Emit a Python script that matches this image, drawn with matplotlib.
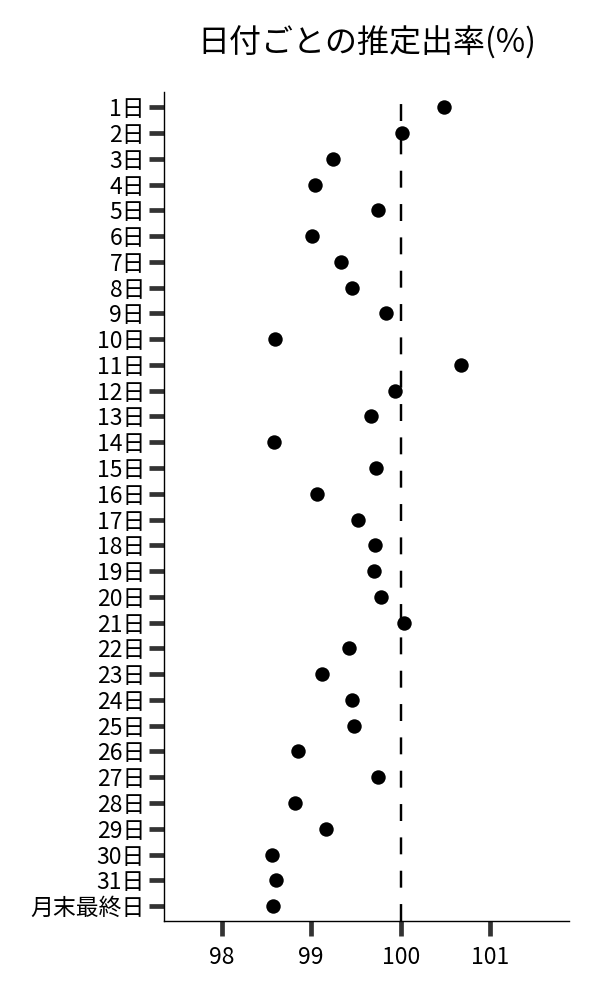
import matplotlib
matplotlib.use("Agg")
import matplotlib.pyplot as plt
import numpy as np

plt.rcParams['font.family'] = ['Noto Sans CJK JP', 'DejaVu Sans']
plt.rcParams['lines.scale_dashes'] = False

categories = [f"{d}日" for d in range(1, 32)] + ["月末最終日"]
values = [100.48, 100.01, 99.24, 99.04, 99.74, 99.01, 99.33, 99.46, 99.83, 98.60,
          100.67, 99.94, 99.67, 98.58, 99.72, 99.06, 99.52, 99.71, 99.70, 99.78,
          100.04, 99.42, 99.12, 99.46, 99.48, 98.85, 99.74, 98.82, 99.17, 98.56,
          98.61, 98.57]
xticks = [98, 99, 100, 101]
reference = 100
title = "日付ごとの推定出率(%)"

fig = plt.figure(figsize=(6, 10), dpi=100)
ax = fig.add_axes([0.2738, 0.079, 0.675, 0.8287])

ypos = np.arange(len(categories))
ax.axvline(reference, color='black', lw=1.75, linestyle=(0, (12.2, 11.8)), zorder=1)
ax.scatter(values, ypos, s=108, color='black', zorder=3, linewidths=0)

ax.set_yticks(ypos)
ax.set_yticklabels(categories)
ax.set_xticks(xticks)
ax.set_xticklabels([str(t) for t in xticks])
ax.set_ylim(len(categories) - 1 + 0.58, -0.58)
ax.set_xlim(97.36, 101.88)

for s in ['top', 'right']:
    ax.spines[s].set_visible(False)
for s in ['left', 'bottom']:
    ax.spines[s].set_linewidth(1.0)
    ax.spines[s].set_color('black')

ax.tick_params(axis='both', direction='out', length=11, width=3.4,
               color='#333333', labelsize=16.5, labelcolor='black')
ax.tick_params(axis='y', pad=2.8)
ax.tick_params(axis='x', pad=7)

fig.text(0.611, 0.957, title, ha='center', va='center', fontsize=23, color='black')

fig.savefig("out.png", dpi=100)
